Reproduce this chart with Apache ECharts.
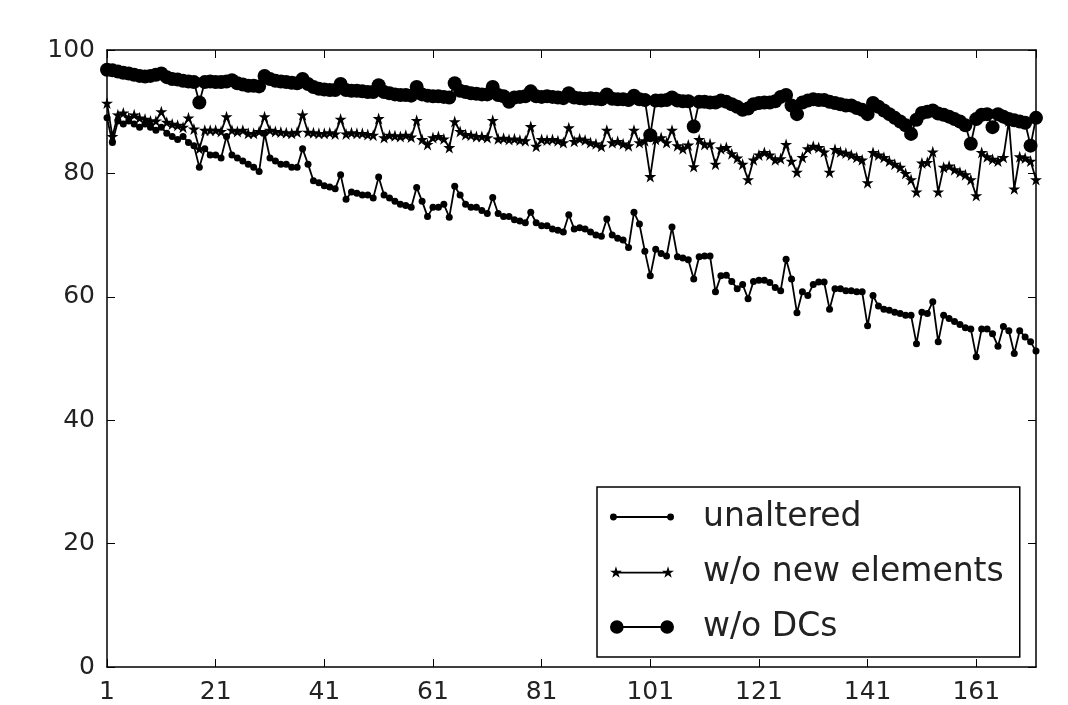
<!DOCTYPE html>
<html>
<head>
<meta charset="utf-8">
<script src="https://cdn.jsdelivr.net/npm/echarts@6/dist/echarts.min.js"></script>
<style>
  html, body { margin: 0; padding: 0; background: #fff; }
  #chart { width: 1068px; height: 705px; }
</style>
</head>
<body>
<div id="chart"></div>
<script>
// values, one per run (1..172)
const unaltered = [
  89, 85, 88.5, 88, 88.5, 88, 87.5, 88, 87.5, 87,
  87.5, 86.5, 86, 85.5, 86, 85, 84.5, 81, 84, 83,
  83, 82.5, 86, 83, 82.5, 82, 81.5, 81, 80.3, 86.5,
  82.5, 82, 81.5, 81.5, 81, 81, 84, 81.5, 78.8, 78.5,
  78, 77.8, 77.5, 79.8, 75.8, 77, 76.8, 76.5, 76.5, 76,
  79.4, 76.5, 76, 75.5, 75, 74.8, 74.5, 77.7, 75.5, 73,
  74.5, 74.5, 75, 72.9, 77.9, 76.5, 75, 74.5, 74.5, 74,
  73.5, 76.1, 73.5, 73, 73, 72.5, 72.3, 72, 73.7, 72,
  71.5, 71.5, 71, 70.8, 70.5, 73.3, 71, 71.2, 71, 70.5,
  70, 69.8, 72.6, 70, 69.5, 69.2, 68, 73.7, 71.8, 67.4,
  63.4, 67.7, 67, 66.6, 71.3, 66.5, 66.3, 66, 62.9, 66.5,
  66.6, 66.6, 60.8, 63.4, 63.5, 62.5, 61.3, 62, 59.7, 62.5,
  62.7, 62.7, 62.3, 61.5, 61, 66.1, 62.9, 57.4, 60.8, 60.2,
  62, 62.4, 62.4, 58, 61.3, 61.3, 61, 61, 60.8, 60.8,
  55.3, 60.2, 58.5, 58, 57.8, 57.5, 57.3, 57, 57, 52.4,
  57.5, 57.3, 59.2, 52.7, 57, 56.5, 56, 55.5, 55, 54.8,
  50.3, 54.8, 54.8, 54, 52, 55.2, 54.5, 50.8, 54.5, 53.5,
  52.7, 51.2
]
const noNewElements = [
  91.4, 86, 89.5, 89.8, 89, 89.5, 89, 88.8, 88.5, 88.5,
  90, 88.3, 88, 87.8, 87.5, 89, 87.2, 84, 87, 87,
  87, 86.8, 89.2, 87, 86.8, 87, 86.5, 86.5, 86.8, 89.2,
  87, 86.8, 86.7, 86.6, 86.5, 86.7, 89.5, 86.7, 86.6, 86.5,
  86.5, 86.6, 86.4, 88.8, 86.4, 86.6, 86.5, 86.5, 86.3, 86.2,
  88.9, 85.8, 86.2, 86.1, 86, 86.2, 85.9, 88.6, 85.5, 84.7,
  85.8, 86, 85.6, 84.2, 88.4, 86.8, 86.3, 86.2, 86, 86,
  85.8, 88.6, 85.6, 85.7, 85.5, 85.6, 85.4, 85.3, 87.6, 84.4,
  85.5, 85.4, 85.5, 85.3, 85, 87.4, 85.2, 85.6, 85.4, 85,
  84.8, 84.4, 87, 85, 85.2, 84.8, 84.5, 87, 85, 85.3,
  79.5, 85.5, 85.8, 85, 87, 84.5, 84, 84.6, 81.1, 85.5,
  84.7, 84.8, 81.5, 84, 84.2, 83.2, 82.5, 81.5, 79, 82.2,
  83, 83.4, 83, 82.2, 82.4, 84.7, 82, 80.2, 82.6, 84,
  84.4, 84.2, 83.5, 80.2, 83.9, 83.5, 83.3, 83, 82.6, 82.2,
  78.5, 83.4, 83, 82.6, 82, 81.5, 81, 80, 79, 77,
  81.7, 81.8, 83.5, 77, 81, 81.2, 80.6, 80.2, 79.8, 79,
  76.4, 83.4, 82.7, 82.3, 82, 82.6, 88.5, 77.5, 82.7, 82.5,
  82, 79
]
const noDCs = [
  96.8, 96.7, 96.5, 96.3, 96.2, 96, 95.8, 95.7, 95.8, 96,
  96.2, 95.6, 95.3, 95.2, 95, 94.9, 94.8, 91.5, 94.8, 94.9,
  94.8, 94.8, 94.9, 95.1, 94.6, 94.4, 94.2, 94.2, 94.1, 95.8,
  95.3, 95, 94.9, 94.8, 94.7, 94.6, 95.3, 94.5, 94, 93.7,
  93.6, 93.5, 93.5, 94.5, 93.5, 93.4, 93.4, 93.3, 93.2, 93.2,
  94.3, 93.2, 93, 92.8, 92.7, 92.7, 92.6, 94, 92.8, 92.6,
  92.5, 92.5, 92.4, 92.3, 94.6, 93.4, 93.2, 93, 92.9, 92.8,
  92.8, 94, 92.7, 92.5, 91.6, 92.3, 92.4, 92.5, 93.3, 92.5,
  92.4, 92.5, 92.4, 92.3, 92.2, 93, 92.3, 92.2, 92.1, 92.2,
  92.1, 92, 92.8, 92.1, 92, 92, 91.9, 92.6, 92, 91.9,
  86.2, 91.8, 91.8, 91.9, 92.3, 91.8, 91.7, 91.7, 87.6, 91.6,
  91.6, 91.5, 91.5, 91.8, 91.6, 91.2, 90.8, 90.3, 90.5, 91.2,
  91.4, 91.5, 91.5, 91.7, 92.4, 92.7, 91, 89.6, 91.5, 91.8,
  92, 91.9, 91.9, 91.6, 91.4, 91.2, 91, 91, 90.6, 90.3,
  89.6, 91.4, 90.8, 90.2, 89.6, 89, 88.4, 87.8, 86.4, 88.7,
  89.8, 90, 90.2, 89.7, 89.5, 89.2, 88.8, 88.4, 87.8, 84.8,
  88.8, 89.5, 89.6, 87.5, 89.6, 89.2, 88.8, 88.6, 88.4, 88.2,
  84.5, 89
]
const seriesNames = ['unaltered', 'w/o new elements', 'w/o DCs']
const xMin = 1
const xMax = 172
const xStep = 20
const yTicks = [0, 20, 40, 60, 80, 100]

const FONT = 'DejaVu Sans'

function toPoints(values) {
  return values.map((v, i) => [i + 1, v])
}

// legend icon helpers (matplotlib style: two markers joined by a line)
function circ(cx, cy, r) {
  return `M${cx + r} ${cy}A${r} ${r} 0 1 1 ${cx - r} ${cy}A${r} ${r} 0 1 1 ${cx + r} ${cy}Z`
}
function star(cx, cy, R, r) {
  let d = ''
  for (let k = 0; k < 10; k++) {
    const a = (-90 + k * 36) * Math.PI / 180
    const rad = k % 2 === 0 ? R : r
    d += (k === 0 ? 'M' : 'L') + (cx + rad * Math.cos(a)).toFixed(2) + ' ' + (cy + rad * Math.sin(a)).toFixed(2)
  }
  return d + 'Z'
}
function bar(x1, x2, cy, h) {
  return `M${x1} ${cy - h}L${x2} ${cy - h}L${x2} ${cy + h}L${x1} ${cy + h}Z`
}
// line piece only between the markers, so nothing overlaps
function legendIcon(marker, r) {
  return 'path://' + marker(7, 7) + bar(7 + r * 0.9, 57 - r * 0.9, 7, 0.9) + marker(57, 7)
}

const starSymbol = 'path://' + star(50, 50, 50, 19)

const iconDot = legendIcon((x, y) => circ(x, y, 3), 3)
const iconStar = legendIcon((x, y) => star(x, y, 6, 2.3), 2.3)
const iconBig = legendIcon((x, y) => circ(x, y, 6.8), 6.8)

const axisCommon = {
  axisLine: { show: true, onZero: false, lineStyle: { color: '#000', width: 1.5 } },
  axisTick: { show: true, inside: true, length: 8, lineStyle: { color: '#000', width: 1 } },
  splitLine: { show: false },
}

const option = {
  animation: false,
  backgroundColor: '#fff',
  grid: { left: 107, right: 32, top: 50, bottom: 35, containLabel: false },
  xAxis: [
    {
      type: 'value', min: xMin, max: xMax, interval: xStep, position: 'bottom',
      ...axisCommon,
      axisLabel: { color: '#222', fontSize: 25, fontFamily: FONT, margin: 13, showMaxLabel: false },
    },
    {
      type: 'value', min: xMin, max: xMax, interval: xStep, position: 'top',
      ...axisCommon,
      axisLabel: { show: false },
    },
  ],
  yAxis: [
    {
      type: 'value', min: yTicks[0], max: yTicks[yTicks.length - 1], interval: 20, position: 'left',
      ...axisCommon,
      axisLabel: { color: '#222', fontSize: 25, fontFamily: FONT, margin: 12 },
    },
    {
      type: 'value', min: yTicks[0], max: yTicks[yTicks.length - 1], interval: 20, position: 'right',
      ...axisCommon,
      axisLabel: { show: false },
    },
  ],
  legend: {
    orient: 'vertical',
    left: 597,
    top: 487,
    padding: [12, 16, 12, 13],
    itemGap: 19,
    itemWidth: 64,
    itemHeight: 14,
    backgroundColor: '#fff',
    borderColor: '#000',
    borderWidth: 1.5,
    borderRadius: 0,
    itemStyle: { borderWidth: 0 },
    textStyle: { color: '#222', fontSize: 33, fontFamily: FONT, lineHeight: 36, padding: [0, 0, 0, 24] },
    data: [
      { name: seriesNames[0], icon: iconDot },
      { name: seriesNames[1], icon: iconStar },
      { name: seriesNames[2], icon: iconBig },
    ],
  },
  series: [
    {
      name: seriesNames[0],
      type: 'line',
      data: toPoints(unaltered),
      symbol: 'circle',
      symbolSize: 7,
      showAllSymbol: true,
      itemStyle: { color: '#000', borderWidth: 0 },
      lineStyle: { color: '#000', width: 1.8 },
    },
    {
      name: seriesNames[1],
      type: 'line',
      data: toPoints(noNewElements),
      symbol: starSymbol,
      symbolSize: 12,
      showAllSymbol: true,
      itemStyle: { color: '#000', borderWidth: 0 },
      lineStyle: { color: '#000', width: 1.8 },
    },
    {
      name: seriesNames[2],
      type: 'line',
      data: toPoints(noDCs),
      symbol: 'circle',
      symbolSize: 14,
      showAllSymbol: true,
      itemStyle: { color: '#000', borderWidth: 0 },
      lineStyle: { color: '#000', width: 1.8 },
    },
  ],
}

const myChart = echarts.init(document.getElementById('chart'))
myChart.setOption(option)
</script>
</body>
</html>
